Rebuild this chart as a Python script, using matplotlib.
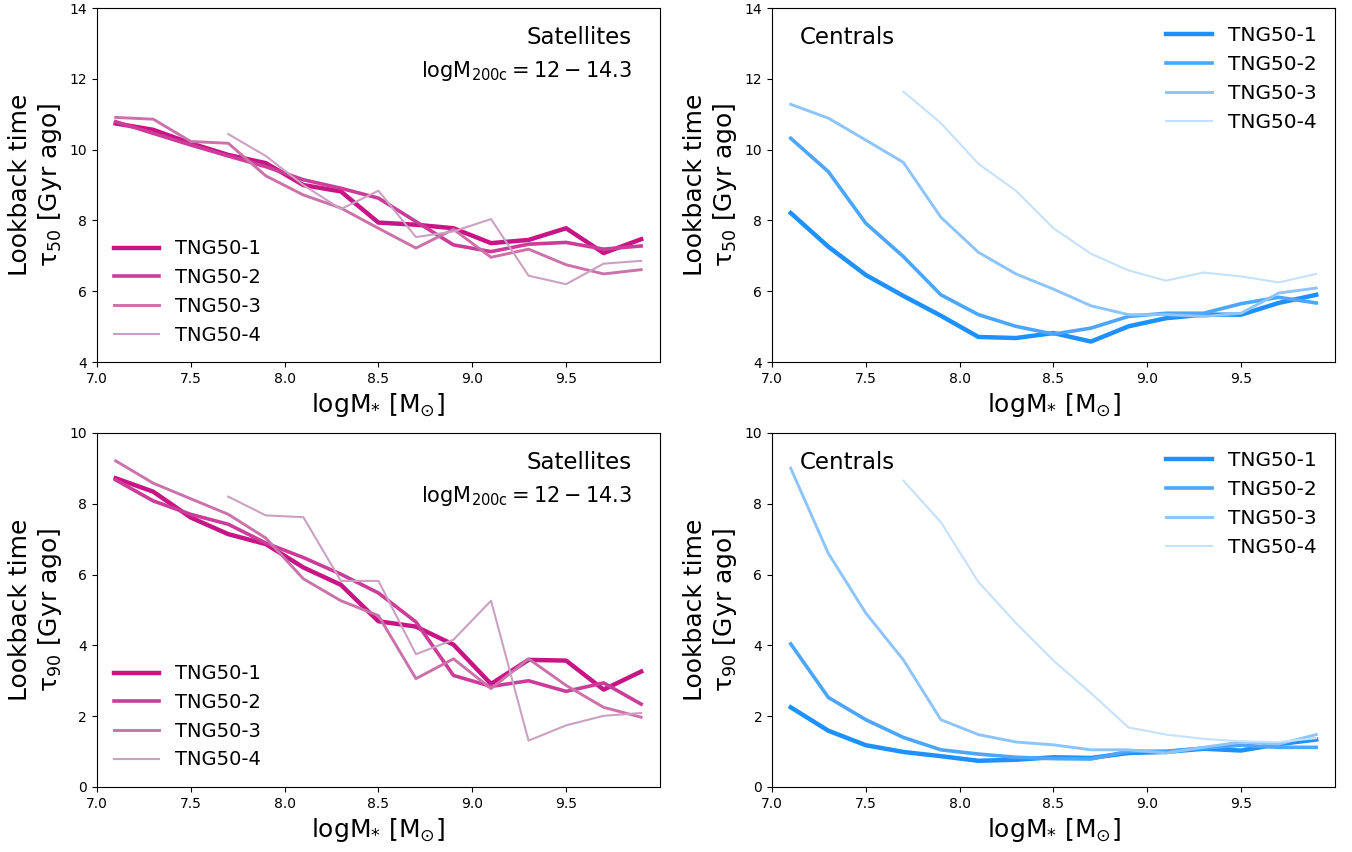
import matplotlib
matplotlib.use("Agg")
import matplotlib.pyplot as plt

plt.rcParams['mathtext.default'] = 'regular'

mass = [7.1, 7.3, 7.5, 7.7, 7.9, 8.1, 8.3, 8.5, 8.7, 8.9, 9.1, 9.3, 9.5, 9.7, 9.9]
mass4 = mass[3:]
runs = ["TNG50-1", "TNG50-2", "TNG50-3", "TNG50-4"]

# tau50, satellites
sat50_1 = [10.74, 10.56, 10.18, 9.85, 9.62, 9.0, 8.82, 7.94, 7.88, 7.78, 7.36, 7.45, 7.78, 7.08, 7.47]
sat50_2 = [10.79, 10.46, 10.13, 9.82, 9.52, 9.15, 8.91, 8.63, 7.97, 7.31, 7.12, 7.33, 7.38, 7.19, 7.28]
sat50_3 = [10.91, 10.86, 10.23, 10.18, 9.26, 8.72, 8.35, 7.78, 7.22, 7.75, 6.96, 7.19, 6.75, 6.49, 6.61]
sat50_4 = [10.44, 9.82, 9.0, 8.32, 8.84, 7.53, 7.69, 8.04, 6.44, 6.20, 6.78, 6.86]

# tau50, centrals
cen50_1 = [8.21, 7.26, 6.46, 5.87, 5.31, 4.71, 4.68, 4.82, 4.58, 5.01, 5.24, 5.34, 5.34, 5.67, 5.90]
cen50_2 = [10.32, 9.38, 7.92, 6.98, 5.90, 5.34, 5.01, 4.79, 4.96, 5.29, 5.38, 5.38, 5.65, 5.83, 5.67]
cen50_3 = [11.28, 10.89, 10.27, 9.64, 8.09, 7.10, 6.49, 6.06, 5.59, 5.34, 5.34, 5.29, 5.38, 5.95, 6.09]
cen50_4 = [11.64, 10.75, 9.60, 8.84, 7.78, 7.06, 6.59, 6.30, 6.53, 6.42, 6.25, 6.49]

# tau90, satellites
sat90_1 = [8.72, 8.34, 7.61, 7.14, 6.86, 6.20, 5.71, 4.68, 4.53, 4.02, 2.91, 3.59, 3.57, 2.75, 3.26]
sat90_2 = [8.67, 8.08, 7.70, 7.42, 6.89, 6.48, 6.01, 5.48, 4.66, 3.15, 2.84, 3.00, 2.70, 2.94, 2.34]
sat90_3 = [9.21, 8.58, 8.14, 7.70, 7.03, 5.88, 5.26, 4.84, 3.06, 3.62, 2.78, 3.62, 2.87, 2.25, 1.97]
sat90_4 = [8.20, 7.67, 7.62, 5.82, 5.82, 3.75, 4.16, 5.26, 1.31, 1.74, 2.01, 2.09]

# tau90, centrals
cen90_1 = [2.25, 1.59, 1.18, 0.99, 0.87, 0.74, 0.77, 0.84, 0.82, 0.96, 0.99, 1.08, 1.03, 1.21, 1.34]
cen90_2 = [4.04, 2.53, 1.90, 1.40, 1.05, 0.93, 0.84, 0.80, 0.79, 1.01, 1.01, 1.10, 1.18, 1.12, 1.12]
cen90_3 = [9.00, 6.60, 4.91, 3.59, 1.90, 1.48, 1.27, 1.19, 1.05, 1.05, 0.96, 1.12, 1.27, 1.21, 1.48]
cen90_4 = [8.65, 7.48, 5.79, 4.63, 3.57, 2.65, 1.68, 1.48, 1.36, 1.29, 1.27, 1.38]

pinks = ["#C71585", "#CC3D99", "#CC72AA", "#CBA1C3"]
blues = ["#1E90FF", "#4CA6FC", "#8DC5FB", "#C5E1FB"]
widths = [3.2, 2.6, 2.1, 1.5]


def panel(ax, series, colors, ylim, tau, sat):
    xs = [mass, mass, mass, mass4]
    for i in range(4):
        ax.plot(xs[i], series[i], color=colors[i], lw=widths[i], label=runs[i])
    ax.set_xlim(7.0, 10.0)
    ax.set_ylim(ylim)
    ax.set_xticks([7.0, 7.5, 8.0, 8.5, 9.0, 9.5])
    ax.set_xlabel(r"logM$_{*}$ [M$_{\odot}$]", fontsize=18)
    ax.set_ylabel("Lookback time\n" + r"$\tau_{%s}$ [Gyr ago]" % tau, fontsize=18)
    ax.tick_params(labelsize=10)
    if sat:
        ax.text(0.95, 0.898, "Satellites", transform=ax.transAxes, ha="right", va="baseline", fontsize=16.5)
        ax.text(0.95, 0.805, r"logM$_{200c}=12-14.3$", transform=ax.transAxes, ha="right", va="baseline", fontsize=15)
        ax.legend(loc="lower left", fontsize=14, frameon=False, handlelength=2.3)
    else:
        ax.text(0.05, 0.898, "Centrals", transform=ax.transAxes, ha="left", va="baseline", fontsize=16.5)
        ax.legend(loc="upper right", fontsize=14.5, frameon=False, handlelength=2.3)


fig = plt.figure(figsize=(13.52, 8.52), dpi=100)
ax1 = fig.add_axes([0.0717, 0.575, 0.4164, 0.4156])
ax2 = fig.add_axes([0.571, 0.575, 0.4164, 0.4156])
ax3 = fig.add_axes([0.0717, 0.0763, 0.4164, 0.4156])
ax4 = fig.add_axes([0.571, 0.0763, 0.4164, 0.4156])

panel(ax1, [sat50_1, sat50_2, sat50_3, sat50_4], pinks, (4, 14), "50", True)
panel(ax2, [cen50_1, cen50_2, cen50_3, cen50_4], blues, (4, 14), "50", False)
panel(ax3, [sat90_1, sat90_2, sat90_3, sat90_4], pinks, (0, 10), "90", True)
panel(ax4, [cen90_1, cen90_2, cen90_3, cen90_4], blues, (0, 10), "90", False)

fig.savefig("out.png", dpi=100)
